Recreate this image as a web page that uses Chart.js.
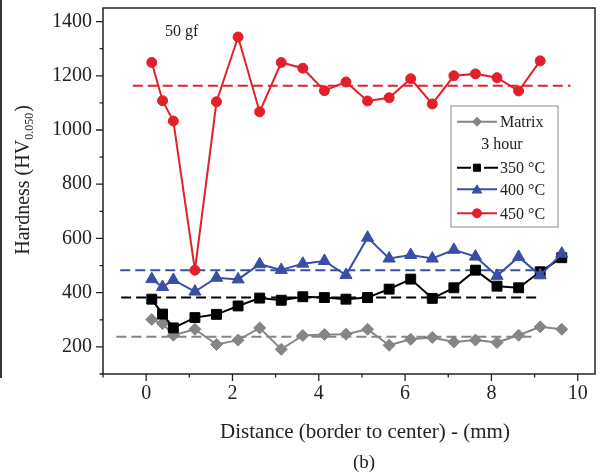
<!DOCTYPE html>
<html><head><meta charset="utf-8">
<script src="https://cdn.jsdelivr.net/npm/chart.js@4.4.1/dist/chart.umd.min.js"></script>
<style>html,body{margin:0;padding:0;background:#fff;}canvas{display:block}</style>
</head><body>
<canvas id="c" width="603" height="476"></canvas>
<script>
// ---- data ----
const distances = [0.13,0.38,0.63,1.13,1.63,2.13,2.63,3.13,3.63,4.13,4.63,5.13,5.63,6.13,6.63,7.13,7.63,8.13,8.63,9.13,9.63];
const matrixHV = [301,286,243,265,209,225,270,191,242,246,247,265,206,228,235,218,225,216,243,274,265];
const hv350 = [376,321,270,308,320,351,380,372,385,382,376,382,413,450,379,418,483,424,418,477,529];
const hv400 = [450,421,447,404,455,449,505,484,507,517,465,603,526,539,526,558,533,462,532,464,544];
const hv450 = [1249,1108,1033,483,1104,1343,1067,1249,1228,1145,1177,1107,1119,1189,1096,1200,1207,1193,1144,1255];
const seriesNames = ['Matrix','350 °C','400 °C','450 °C'];
const avgHV = [237,382,483,1163];
const avgFrom = [-0.69,-0.58,-0.6,-0.31];
const avgTo = [9.0,9.15,9.19,9.83];
const xTicks = [0,2,4,6,8,10];
const yTicks = [200,400,600,800,1000,1200,1400];
const xMinorTicks = [-1,1,3,5,7,9];
const yMinorTicks = [100,300,500,700,900,1100,1300];

// ---- styles ----
const colors = ['#858585','#000000','#3a4ea6','#e3202a'];
const styles = ['rectRot','rect','triangle','circle'];
const radii = [6,7,7,5];
const FONT = "'Liberation Serif','Times New Roman',serif";

const seriesData = [matrixHV, hv350, hv400, hv450];
const datasets = [];
seriesData.forEach((vals, i) => {
  datasets.push({
    label: seriesNames[i],
    data: vals.map((v, k) => ({x: distances[k], y: v})),
    borderColor: colors[i], backgroundColor: colors[i],
    pointBackgroundColor: colors[i], pointBorderColor: colors[i],
    pointStyle: styles[i], pointRadius: radii[i], pointBorderWidth: 1,
    borderWidth: 2, showLine: true, tension: 0, order: 3 - i, clip: false
  });
});
avgHV.forEach((v, i) => {
  datasets.push({
    label: 'avg ' + seriesNames[i],
    data: [{x: avgFrom[i], y: v}, {x: avgTo[i], y: v}],
    borderColor: colors[i], borderWidth: 2, borderDash: [10, 5],
    pointRadius: 0, showLine: true, order: 10 + i
  });
});

const deco = {
  id: 'deco',
  afterDraw(chart) {
    const {ctx, chartArea: a, scales: {x, y}} = chart;
    ctx.save();
    ctx.fillStyle = '#333';
    ctx.fillRect(0, 0, 2, 378);
    ctx.strokeStyle = '#222'; ctx.lineWidth = 1.5;
    ctx.strokeRect(a.left, a.top, a.right - a.left, a.bottom - a.top);
    ctx.lineWidth = 1.3;
    ctx.beginPath();
    xTicks.forEach(v => { const p = x.getPixelForValue(v); ctx.moveTo(p, a.bottom); ctx.lineTo(p, a.bottom + 7); });
    xMinorTicks.forEach(v => { const p = x.getPixelForValue(v); ctx.moveTo(p, a.bottom); ctx.lineTo(p, a.bottom + 3.5); });
    yTicks.forEach(v => { const p = y.getPixelForValue(v); ctx.moveTo(a.left, p); ctx.lineTo(a.left - 7, p); });
    yMinorTicks.forEach(v => { const p = y.getPixelForValue(v); ctx.moveTo(a.left, p); ctx.lineTo(a.left - 3.5, p); });
    ctx.stroke();

    ctx.fillStyle = '#222';
    ctx.font = '21px ' + FONT;
    ctx.textAlign = 'center'; ctx.textBaseline = 'middle';
    ctx.fillText('Distance (border to center) - (mm)', 365, 432);
    ctx.font = '19px ' + FONT;
    ctx.fillText('(b)', 364, 463);

    ctx.save();
    ctx.translate(22, 180);
    ctx.rotate(-Math.PI / 2);
    ctx.textBaseline = 'alphabetic'; ctx.textAlign = 'left';
    const mainF = '20px ' + FONT, subF = '12px ' + FONT;
    ctx.font = mainF; const w1 = ctx.measureText('Hardness (HV').width;
    const w3 = ctx.measureText(')').width;
    ctx.font = subF; const w2 = ctx.measureText('0.050').width;
    const tot = w1 + w2 + w3 + 1;
    const sx = -tot / 2;
    ctx.font = mainF; ctx.fillText('Hardness (HV', sx, 7);
    ctx.font = subF; ctx.fillText('0.050', sx + w1, 11);
    ctx.font = mainF; ctx.fillText(')', sx + w1 + w2 + 1, 7);
    ctx.restore();

    ctx.font = '16px ' + FONT;
    ctx.textAlign = 'left'; ctx.textBaseline = 'middle';
    ctx.fillText('50 gf', 165, 32);

    const L = {left: 451, top: 106, right: 558, bottom: 227};
    ctx.fillStyle = '#fff';
    ctx.fillRect(L.left, L.top, L.right - L.left, L.bottom - L.top);
    ctx.strokeStyle = '#9a9a9a'; ctx.lineWidth = 1.2;
    ctx.strokeRect(L.left, L.top, L.right - L.left, L.bottom - L.top);
    const rows = [121.7, 167.7, 189.3, 213.3];
    const legR = [4.5, 5, 5.5, 4.5];
    rows.forEach((ry, i) => {
      ctx.strokeStyle = colors[i]; ctx.lineWidth = 2;
      ctx.beginPath();
      if (i === 1) { ctx.moveTo(457, ry); ctx.lineTo(471, ry); ctx.moveTo(484, ry); ctx.lineTo(498, ry); }
      else { ctx.moveTo(457, ry); ctx.lineTo(497, ry); }
      ctx.stroke();
      ctx.fillStyle = colors[i]; ctx.lineWidth = 1;
      Chart.helpers.drawPoint(ctx, {pointStyle: styles[i], radius: legR[i], rotation: 0, borderWidth: 1}, 477, ry + (i === 2 ? 1 : 0));
      ctx.fillStyle = '#222';
      ctx.font = '16px ' + FONT; ctx.textAlign = 'left'; ctx.textBaseline = 'middle';
      ctx.fillText(seriesNames[i], 500, ry + 1);
    });
    ctx.textAlign = 'center';
    ctx.fillText('3 hour', 502, 145);
    ctx.restore();
  }
};

new Chart(document.getElementById('c'), {
  type: 'scatter',
  data: {datasets},
  options: {
    responsive: false, animation: false, devicePixelRatio: 1,
    layout: {padding: {top: 7, right: 5, left: 0, bottom: 0}},
    plugins: {legend: {display: false}, tooltip: {enabled: false}},
    scales: {
      x: {
        type: 'linear', min: -1, max: 10.4,
        afterBuildTicks: s => { s.ticks = xTicks.map(v => ({value: v})); },
        afterFit: s => { s.height = 102; s.paddingLeft = 0; s.paddingRight = 0; },
        grid: {drawOnChartArea: false, drawTicks: true, tickLength: 7, color: 'rgba(0,0,0,0)'},
        border: {display: false},
        ticks: {font: {family: FONT, size: 20}, color: '#222', padding: 1, maxRotation: 0,
                callback: v => String(v)}
      },
      y: {
        type: 'linear', min: 100, max: 1450,
        afterBuildTicks: s => { s.ticks = yTicks.map(v => ({value: v})); },
        afterFit: s => { s.width = 103; s.paddingTop = 0; s.paddingBottom = 0; },
        grid: {drawOnChartArea: false, drawTicks: true, tickLength: 7, color: 'rgba(0,0,0,0)'},
        border: {display: false},
        ticks: {font: {family: FONT, size: 20}, color: '#222', padding: 4,
                callback: v => String(v)}
      }
    }
  },
  plugins: [deco]
});
</script>
</body></html>
